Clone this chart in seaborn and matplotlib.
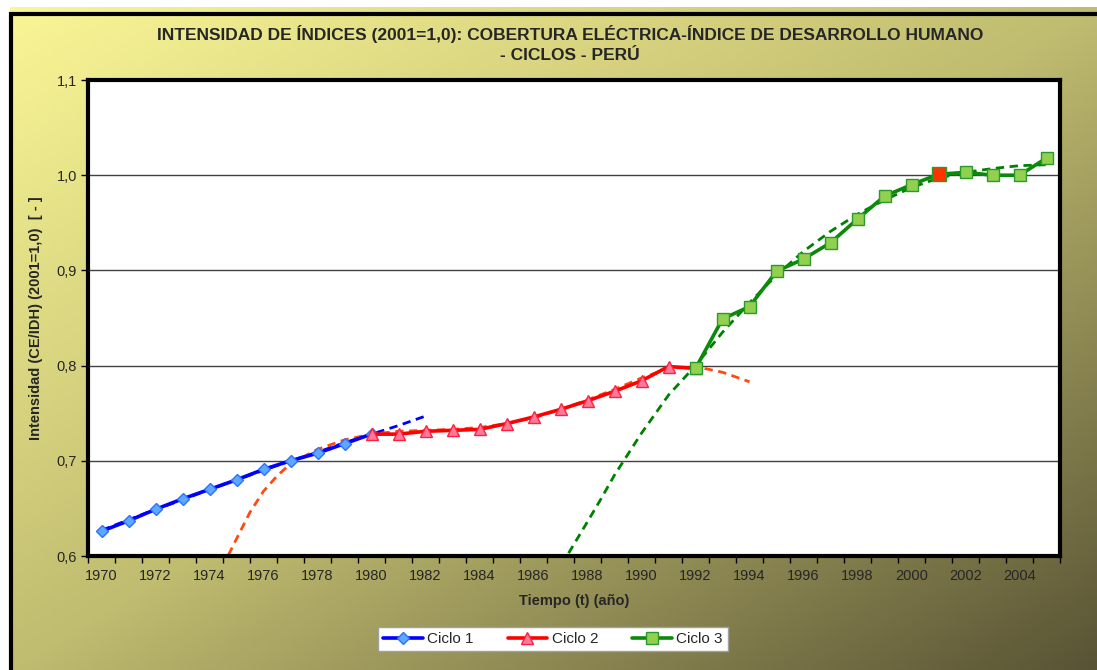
import numpy as np
import matplotlib
matplotlib.use('Agg')
import matplotlib.pyplot as plt
from matplotlib.patches import Rectangle
import seaborn as sns

# data
years_c1 = list(range(1970, 1981))
ciclo1 = [0.626, 0.637, 0.649, 0.660, 0.670, 0.680, 0.691, 0.700, 0.708, 0.718, 0.728]

years_c2 = list(range(1980, 1993))
ciclo2 = [0.728, 0.728, 0.731, 0.732, 0.733, 0.739, 0.746, 0.754, 0.763, 0.773, 0.784, 0.799, 0.797]

years_c3 = list(range(1992, 2006))
ciclo3 = [0.797, 0.849, 0.862, 0.899, 0.912, 0.929, 0.954, 0.978, 0.990, 1.001, 1.003, 1.000, 1.000, 1.018]

# dashed trend lines
trend1_years = list(range(1970, 1983))
trend1 = [0.627, 0.638, 0.649, 0.659, 0.670, 0.680, 0.690, 0.700, 0.709, 0.719, 0.728, 0.737, 0.747]

trend2_years = [1974.7, 1975, 1975.5, 1976, 1976.5, 1977, 1978, 1979, 1980, 1981, 1982, 1983,
                1984, 1985, 1986, 1987, 1988, 1989, 1990, 1991, 1992, 1993, 1994]
trend2 = [0.601, 0.618, 0.646, 0.668, 0.684, 0.697, 0.712, 0.722, 0.728, 0.731, 0.732, 0.733,
          0.735, 0.739, 0.745, 0.754, 0.764, 0.775, 0.787, 0.797, 0.799, 0.793, 0.783]

trend3_years = [1987.3, 1988, 1988.5, 1989, 1990, 1991, 1992, 1993, 1994, 1995, 1996, 1997,
                1998, 1999, 2000, 2001, 2002, 2003, 2004, 2005]
trend3 = [0.603, 0.636, 0.660, 0.685, 0.729, 0.769, 0.800, 0.835, 0.866, 0.895, 0.920, 0.941,
          0.959, 0.974, 0.987, 0.997, 1.003, 1.007, 1.010, 1.011]

base_year = 2001
base_value = ciclo3[years_c3.index(base_year)]

year_labels = list(range(1970, 2005, 2))
y_ticks = [0.6, 0.7, 0.8, 0.9, 1.0, 1.1]

title = ('INTENSIDAD DE ÍNDICES (2001=1,0): COBERTURA ELÉCTRICA-ÍNDICE DE DESARROLLO HUMANO\n'
         '- CICLOS - PERÚ')

sns.set_theme(style='white')
plt.rcParams['font.family'] = ['Liberation Sans', 'DejaVu Sans']

fig = plt.figure(figsize=(10.97, 6.70), dpi=100)
fig.patch.set_facecolor('white')

# gradient background of the chart area
bg = fig.add_axes([10 / 1097, 0, 1 - 10 / 1097, 1 - 7 / 670], zorder=-10)
gx = np.linspace(0, 1, 300)
gy = np.linspace(0, 1, 200)
gxx, gyy = np.meshgrid(gx, gy)
t = (gxx + gyy) / 2
c0 = np.array([250, 246, 150]) / 255
c1 = np.array([192, 188, 112]) / 255
c2 = np.array([88, 83, 52]) / 255
tt = t[..., None]
grad = np.where(tt < 0.5, c0 + (c1 - c0) * (tt / 0.5), c1 + (c2 - c1) * ((tt - 0.5) / 0.5))
bg.imshow(grad, aspect='auto', extent=[0, 1, 0, 1], origin='upper')
bg.set_xlim(0, 1)
bg.set_ylim(0, 1)
bg.axis('off')
bg.add_patch(Rectangle((0.001, -0.01), 1.2, 1.0, fill=False, edgecolor='black', linewidth=3,
                       transform=bg.transAxes, clip_on=False))

ax = fig.add_axes([88 / 1097, 1 - 556 / 670, (1060 - 88) / 1097, (556 - 80) / 670])
ax.set_facecolor('white')

# trend lines
sns.lineplot(x=trend1_years, y=trend1, ax=ax, color='#0000ff', linestyle=(0, (3, 2)), linewidth=2,
             label='_nolegend_', zorder=2)
sns.lineplot(x=trend2_years, y=trend2, ax=ax, color='#ff4a10', linestyle=(0, (3, 2)), linewidth=2,
             label='_nolegend_', zorder=2)
sns.lineplot(x=trend3_years, y=trend3, ax=ax, color='#008000', linestyle=(0, (3, 2)), linewidth=2,
             label='_nolegend_', zorder=2)

# data series
sns.lineplot(x=years_c1, y=ciclo1, ax=ax, color='#0000ff', linewidth=2.6, marker='D',
             markersize=6.5, markerfacecolor='#5aa8ff', markeredgecolor='#3070ff',
             markeredgewidth=1, label='Ciclo 1', zorder=3)
sns.lineplot(x=years_c2, y=ciclo2, ax=ax, color='#ff0000', linewidth=2.6, marker='^',
             markersize=8, markerfacecolor='#ff7a9a', markeredgecolor='#ff2040',
             markeredgewidth=1, label='Ciclo 2', zorder=4)
sns.lineplot(x=years_c3, y=ciclo3, ax=ax, color='#0a8a0a', linewidth=2.6, marker='s',
             markersize=8.5, markerfacecolor='#92d050', markeredgecolor='#2a9a2a',
             markeredgewidth=1, label='Ciclo 3', zorder=5)
sns.scatterplot(x=[base_year], y=[base_value], ax=ax, marker='s', s=95, color='#ff3300',
                edgecolor='#2a9a2a', linewidth=1, zorder=6, legend=False)

ax.set_xlim(1969.5, 2005.5)
ax.set_ylim(0.6, 1.1)

for yv in y_ticks[1:-1]:
    ax.axhline(yv, color='#404040', linewidth=1, zorder=1)

ax.set_yticks(y_ticks)
ax.set_yticklabels([f'{v:.1f}'.replace('.', ',') for v in y_ticks], fontsize=10.5)
ax.set_xticks(year_labels)
ax.set_xticklabels([str(y) for y in year_labels], fontsize=10.5)
ax.set_xticks(np.arange(1969.5, 2006, 1), minor=True)
ax.tick_params(axis='x', which='major', length=0, pad=9)
ax.tick_params(axis='x', which='minor', length=5, width=1, color='black', direction='out', bottom=True)
ax.tick_params(axis='y', which='major', length=5, width=1, color='black', direction='out', left=True, pad=3)

for side in ['left', 'bottom', 'top', 'right']:
    ax.spines[side].set_visible(True)
    ax.spines[side].set_color('black')
    ax.spines[side].set_linewidth(3)

ax.set_xlabel('Tiempo (t) (año)', fontsize=10.5, fontweight='bold', labelpad=8)
ax.set_ylabel('Intensidad (CE/IDH) (2001=1,0)  [ - ]', fontsize=10.5, fontweight='bold', labelpad=10)

fig.text(570 / 1097, 1 - 44 / 670, title, ha='center', va='center', fontsize=12.5,
         fontweight='bold', linespacing=1.35)

handles, labels = ax.get_legend_handles_labels()
ax.get_legend().remove()
leg = fig.legend(handles, labels, loc='center', bbox_to_anchor=(553 / 1097, 1 - 639 / 670),
                 ncol=3, frameon=True, fancybox=False, edgecolor='#a0a0a0', facecolor='white',
                 framealpha=1, fontsize=11, handlelength=2.6, handletextpad=0.3,
                 columnspacing=2.2, borderpad=0.35)

plt.savefig('out.png', dpi=100)
plt.close()
